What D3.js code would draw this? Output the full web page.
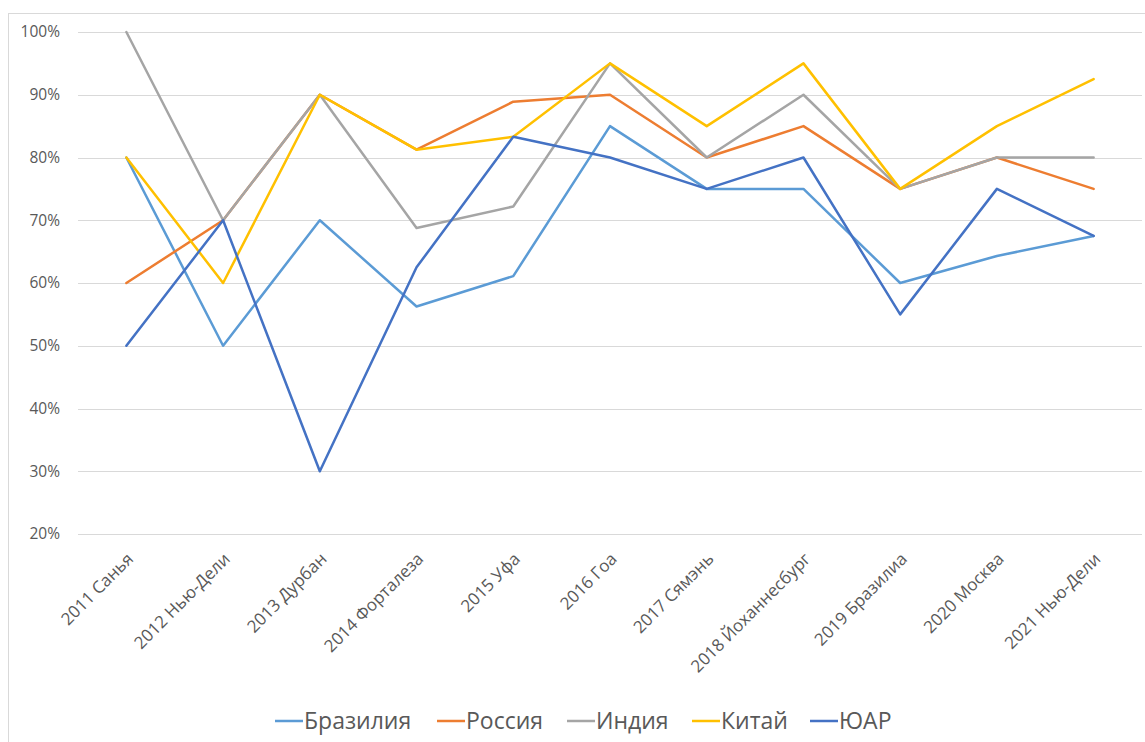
<!DOCTYPE html>
<html>
<head>
<meta charset="utf-8">
<script src="https://cdn.jsdelivr.net/npm/d3@7"></script>
<style>
  body { margin: 0; background: #fff; }
  svg text { font-family: "Open Sans", "Noto Sans", sans-serif; }
</style>
</head>
<body>
<svg id="chart" width="1145" height="742"></svg>
<script>
// categories (summit year + city)
var summits = ["2011 Санья", "2012 Нью-Дели", "2013 Дурбан", "2014 Форталеза", "2015 Уфа",
  "2016 Гоа", "2017 Сямэнь", "2018 Йоханнесбург", "2019 Бразилиа", "2020 Москва", "2021 Нью-Дели"];

// series values, in %
var brazil = [80, 50, 70, 56.25, 61.1, 85, 75, 75, 60, 64.3, 67.5];
var russia = [60, 70, 90, 81.25, 88.9, 90, 80, 85, 75, 80, 75];
var india  = [100, 70, 90, 68.75, 72.2, 95, 80, 90, 75, 80, 80];
var china  = [80, 60, 90, 81.25, 83.3, 95, 85, 95, 75, 85, 92.5];
var rsa    = [50, 70, 30, 62.5, 83.3, 80, 75, 80, 55, 75, 67.5];

var seriesNames = ["Бразилия", "Россия", "Индия", "Китай", "ЮАР"];
var seriesColors = ["#5B9BD5", "#ED7D31", "#A5A5A5", "#FFC000", "#4472C4"];
var yTicks = [20, 30, 40, 50, 60, 70, 80, 90, 100];

var series = [brazil, russia, india, china, rsa].map(function(v, i) {
  return { name: seriesNames[i], color: seriesColors[i], values: v };
});

var svg = d3.select("#chart");

// outer chart frame
svg.append("rect")
  .attr("x", 8.5).attr("y", 13.5)
  .attr("width", 1160).attr("height", 760)
  .attr("fill", "none").attr("stroke", "#d9d9d9");

var plotL = 78, plotR = 1142, plotT = 32, plotB = 534;

var x = d3.scaleBand().domain(summits).range([plotL, plotR]);
var y = d3.scaleLinear().domain([20, 100]).range([plotB, plotT]);

// gridlines
svg.append("g").selectAll("line").data(yTicks).enter().append("line")
  .attr("x1", plotL).attr("x2", plotR)
  .attr("y1", function(d) { return Math.round(y(d)) + 0.5; })
  .attr("y2", function(d) { return Math.round(y(d)) + 0.5; })
  .attr("stroke", "#d9d9d9").attr("stroke-width", 1);

// y labels
svg.append("g").selectAll("text").data(yTicks).enter().append("text")
  .attr("x", 60)
  .attr("y", function(d) { return y(d); })
  .attr("dy", "0.35em")
  .attr("text-anchor", "end")
  .attr("fill", "#595959")
  .attr("font-size", "15.5px")
  .text(function(d) { return d + "%"; });

// x labels, rotated
svg.append("g").selectAll("text").data(summits).enter().append("text")
  .attr("transform", function(d) {
    var cx = x(d) + x.bandwidth() / 2 + 8;
    return "translate(" + cx + ",560) rotate(-45)";
  })
  .attr("text-anchor", "end")
  .attr("fill", "#595959")
  .attr("font-size", "17px")
  .text(function(d) { return d; });

// lines
var line = d3.line()
  .x(function(d, i) { return x(summits[i]) + x.bandwidth() / 2; })
  .y(function(d) { return y(d); });

svg.append("g").selectAll("path").data(series).enter().append("path")
  .attr("d", function(s) { return line(s.values); })
  .attr("fill", "none")
  .attr("stroke", function(s) { return s.color; })
  .attr("stroke-width", 2.5)
  .attr("stroke-linejoin", "round")
  .attr("stroke-linecap", "round");

// legend
var legendX = [275, 437, 567, 692, 810];
var lg = svg.append("g").selectAll("g").data(series).enter().append("g")
  .attr("transform", function(s, i) { return "translate(" + legendX[i] + ",721)"; });
lg.append("line")
  .attr("x1", 0).attr("x2", 28)
  .attr("stroke", function(s) { return s.color; })
  .attr("stroke-width", 2.5);
lg.append("text")
  .attr("x", 29).attr("dy", "0.35em")
  .attr("fill", "#595959")
  .attr("font-size", "23px")
  .text(function(s) { return s.name; });
</script>
</body>
</html>
